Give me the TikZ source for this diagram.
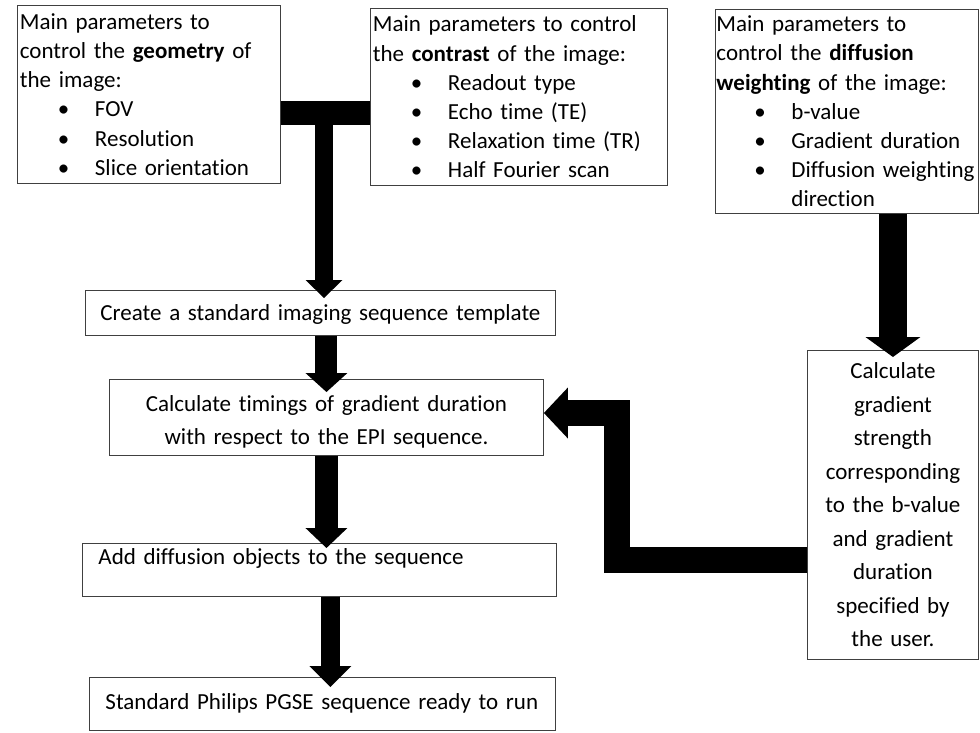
\documentclass[tikz,border=0pt]{standalone}
\usepackage{fontspec}
\setmainfont{Carlito}[Ligatures=NoCommon]
\usetikzlibrary{arrows.meta}
% bullet line: indent, bullet, then the item text
\newcommand\blitem[1]{\hspace*{38pt}\makebox[37pt][l]{\textbullet}#1}
\begin{document}
\begin{tikzpicture}[x=1pt,y=-1pt,
  box/.style={draw=black!75, line width=0.9pt, fill=white, anchor=north west},
  listbox/.style={box, font=\fontsize{23}{29.2}\selectfont, align=left,
    inner xsep=2.5pt, inner ysep=0pt},
  ctrbox/.style={box, font=\fontsize{23}{33.5}\selectfont, align=center,
    inner xsep=0pt, inner ysep=0pt},
  linebox/.style={box, font=\fontsize{23}{28}\selectfont, align=left,
    inner ysep=0pt},
  fat/.style={draw=black, line width=#1, line join=miter},
  head/.style 2 args={-{Triangle[length=#1,width=#2,line width=0pt]}}
]
\useasboundingbox (0,0) rectangle (980,733);

% parameter boxes along the top
\node[listbox, minimum width=263pt, minimum height=178pt, text width=258pt]
  (geo) at (17,5) {Main parameters to\\control the \textbf{geometry} of\\the image:\\
  \blitem{FOV}\\\blitem{Resolution}\\\blitem{Slice orientation}};
\node[listbox, minimum width=297pt, minimum height=177pt, text width=292pt]
  (con) at (370,8) {Main parameters to control\\the \textbf{contrast} of the image:\\
  \blitem{Readout type}\\\blitem{Echo time (TE)}\\\blitem{Relaxation time (TR)}\\\blitem{Half Fourier scan}};
\node[listbox, minimum width=263pt, minimum height=204pt, text width=261pt, inner xsep=1pt]
  (dif) at (715,9) {Main parameters to\\control the \textbf{diffusion}\\\textbf{weighting} of the image:\\
  \blitem{b-value}\\\blitem{Gradient duration}\\\blitem{Diffusion weighting}\\\hspace*{75pt}direction};

% sequence building steps
\node[linebox, minimum width=470pt, text width=470pt, align=center, inner xsep=0pt,
  text height=30pt, text depth=15pt] (tmpl) at (85,290) {Create a standard imaging sequence template};
\node[ctrbox, minimum width=434pt, minimum height=76pt, text width=434pt]
  (timing) at (109,379) {\rule{0pt}{25pt}Calculate timings of gradient duration\\with respect to the EPI sequence.};
\node[linebox, minimum width=474pt, text width=474pt, inner xsep=0pt,
  text height=21pt, text depth=32pt] (adddiff) at (82,543)
  {\hspace*{16pt}Add diffusion objects to the sequence};
\node[linebox, minimum width=466pt, text width=466pt, inner xsep=0pt,
  text height=32pt, text depth=21pt] (ready) at (89,677)
  {\hspace*{16pt}Standard Philips PGSE sequence ready to run};

% gradient strength box on the right
\node[ctrbox, minimum width=171pt, minimum height=309pt, text width=171pt]
  (grad) at (807,350) {Calculate\\gradient\\strength\\corresponding\\to the b-value\\and gradient\\duration\\specified by\\the user.};

% T-shaped joint of geometry and contrast into the template
\coordinate (tj) at (324,113);
\draw[fat=24pt] (geo.east |- tj) -- (con.west |- tj);
\draw[fat=18pt, head={18pt}{37pt}, shorten >=-8pt] (tj) -- (tj |- tmpl.north);

% diffusion weighting into gradient strength
\draw[fat=28pt, head={20pt}{55pt}, shorten >=-7pt] (dif.south -| grad.north) -- (grad.north);

% main vertical flow
\draw[fat=22pt, head={19pt}{42pt}, shorten >=-13pt] (tmpl.south -| timing.north) -- (timing.north);
\draw[fat=23pt, head={20pt}{42pt}, shorten >=-5pt] (timing.south) -- (timing.south |- adddiff.north);
\draw[fat=19pt, head={21pt}{42pt}, shorten >=-10pt] ([xshift=11pt]adddiff.south) -- ([xshift=11pt]adddiff.south |- ready.north);

% gradient strength fed back into the timing step
\draw[fat=26pt, head={24pt}{51pt}] (grad.west |- 0,560) -| (617,413) -- (timing.east |- 0,413);
\end{tikzpicture}
\end{document}
